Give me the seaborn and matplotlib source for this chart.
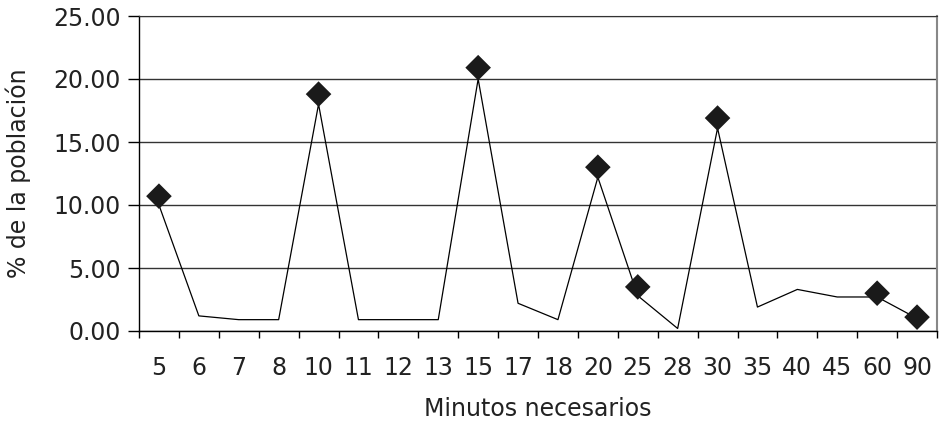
import numpy as np
import pandas as pd
import matplotlib
matplotlib.use("Agg")
import matplotlib.pyplot as plt
from matplotlib.ticker import FormatStrFormatter
import seaborn as sns

# Categories on the x axis (minutes needed)
minutes = ["5", "6", "7", "8", "10", "11", "12", "13", "15", "17",
           "18", "20", "25", "28", "30", "35", "40", "45", "60", "90"]

# Line series (% of population)
line_pct = [10.0, 1.2, 0.9, 0.9, 18.0, 0.9, 0.9, 0.9, 20.0, 2.2,
            0.9, 12.2, 2.8, 0.2, 16.1, 1.9, 3.3, 2.7, 2.7, 1.0]

# Diamond markers (highlighted points)
marker_minutes = ["5", "10", "15", "20", "25", "30", "60", "90"]
marker_pct = [10.7, 18.8, 20.9, 13.0, 3.5, 16.9, 3.0, 1.1]

y_ticks = [0, 5, 10, 15, 20, 25]

df_line = pd.DataFrame({"pos": np.arange(len(minutes)), "pct": line_pct})
df_mark = pd.DataFrame({"pos": [minutes.index(m) for m in marker_minutes],
                        "pct": marker_pct})

sns.set_style("white")
plt.rcParams['font.family'] = ['DejaVu Sans']

fig = plt.figure(figsize=(9.5, 4.24), dpi=100)
ax = fig.add_axes([139 / 950, 1 - 331 / 424, (937 - 139) / 950, (331 - 16) / 424])

sns.lineplot(data=df_line, x="pos", y="pct", color="black", lw=0.9, ax=ax)
sns.scatterplot(data=df_mark, x="pos", y="pct", marker="D", s=170,
                color="#1a1a1a", edgecolor="none", ax=ax, zorder=4, clip_on=False)

ax.set_xlim(-0.5, len(minutes) - 0.5)
ax.set_ylim(min(y_ticks), max(y_ticks))
ax.set_yticks(y_ticks)
ax.yaxis.set_major_formatter(FormatStrFormatter("%.2f"))
ax.set_xticks(np.arange(len(minutes)))
ax.set_xticklabels(minutes)
ax.set_xticks(np.arange(len(minutes) + 1) - 0.5, minor=True)

ax.tick_params(axis="x", which="major", bottom=False, length=0, pad=18,
               labelsize=17, labelcolor="#222222")
ax.tick_params(axis="x", which="minor", bottom=True, length=5, width=1,
               color="black", direction="out")
ax.tick_params(axis="y", left=True, length=8, width=1, pad=5, color="black",
               labelsize=17, labelcolor="#222222", direction="out")

ax.yaxis.grid(True, color="#333333", lw=1)
ax.set_axisbelow(True)

for side in ["left", "bottom"]:
    ax.spines[side].set_color("black")
    ax.spines[side].set_linewidth(1)
ax.spines["top"].set_color("#333333")
ax.spines["right"].set_color("#888888")
ax.spines["right"].set_linewidth(1.5)

ax.set_xlabel("Minutos necesarios", fontsize=17, color="#222222", labelpad=12)
ax.set_ylabel("% de la población", fontsize=17, color="#222222", labelpad=16)

fig.savefig("out.png", dpi=100)
